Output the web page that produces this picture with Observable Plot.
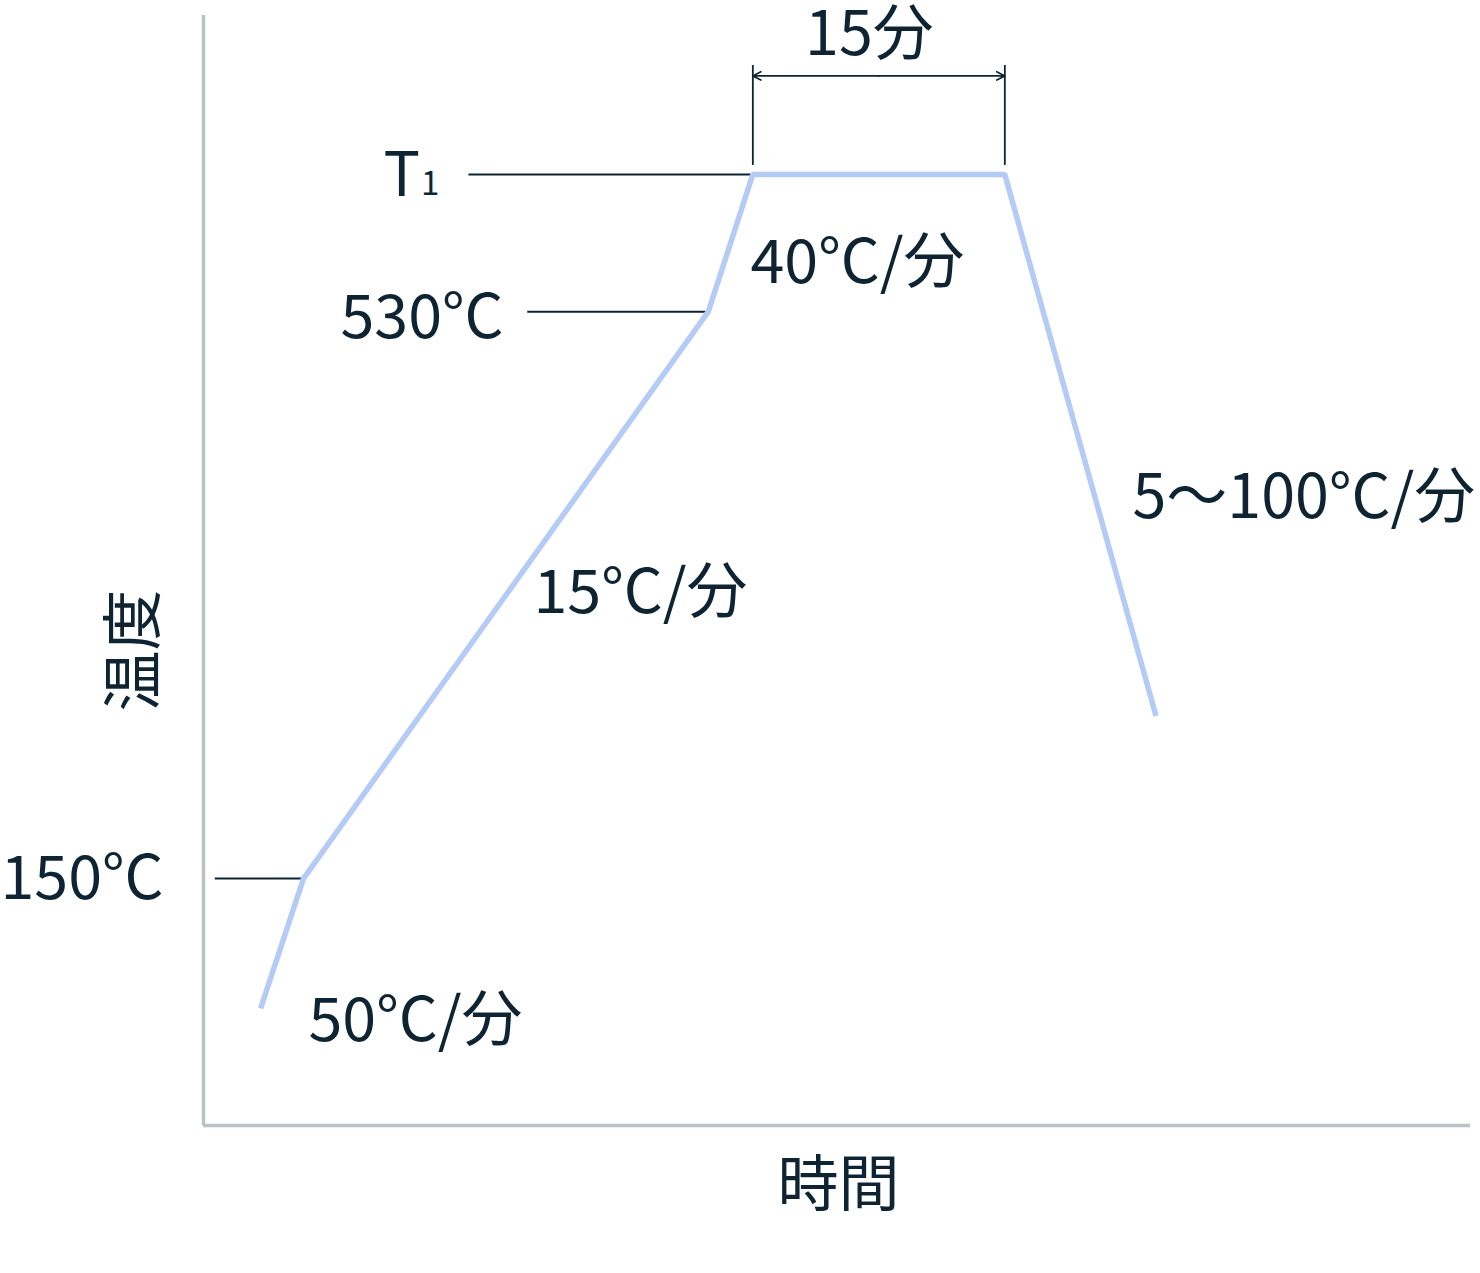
<!DOCTYPE html>
<html>
<head>
<meta charset="utf-8">
<script src="https://cdn.jsdelivr.net/npm/d3@7"></script>
<script src="https://cdn.jsdelivr.net/npm/@observablehq/plot@0.6"></script>
<style>
  html, body { margin: 0; padding: 0; background: #ffffff; }
  #chart svg { display: block; overflow: visible; }
</style>
</head>
<body>
<div id="chart"></div>
<script>
// Temperature profile (time in minutes, temperature in °C; schematic)
const profileTime = [3.4, 5.95, 30.05, 32.7, 47.7, 56.7];
const profileTemp = [63, 150, 530, 622, 622, 259];

// Reference (leader) lines to the labelled temperatures
const refTemp = [150, 530, 622];
const refFrom = [0.7, 19.3, 15.8];
const refTo = [5.95, 30.05, 32.7];

// Hold-time dimension (15 min)
const holdStart = 32.7;
const holdEnd = 47.7;

// Text labels: text, time, temperature, anchor
const labelText = ["15分", "40°C/分", "15°C/分", "5〜100°C/分", "50°C/分", "150°C", "530°C", "時間"];
const labelTime = [39.64, 32.56, 19.64, 55.3, 6.25, -2.38, 17.86, 37.8];
const labelTemp = [714.8, 562.6, 341.4, 405.1, 54.5, 149.7, 525.1, -56.1];
const labelAnchor = ["middle", "start", "start", "start", "start", "end", "end", "middle"];

const xDomain = [0, 75.42];
const yDomain = [-15.5, 728.5];

const profile = profileTime.map((t, i) => ({time: t, temp: profileTemp[i]}));
const refs = refTemp.map((v, i) => ({temp: v, from: refFrom[i], to: refTo[i]}));
const labels = labelText.map((s, i) => ({text: s, time: labelTime[i], temp: labelTemp[i], anchor: labelAnchor[i]}));
const holdMid = (holdStart + holdEnd) / 2;

const ink = "#0e2433";
const font = "'Noto Sans CJK JP', 'Noto Sans', sans-serif";
const fs = 61;

const chart = Plot.plot({
  width: 1480,
  height: 1273,
  marginLeft: 203,
  marginRight: 10,
  marginTop: 15,
  marginBottom: 148,
  x: {domain: xDomain, axis: null},
  y: {domain: yDomain, axis: null},
  style: {fontFamily: font, background: "#ffffff", overflow: "visible"},
  marks: [
    // frame axes
    Plot.ruleX([xDomain[0]], {stroke: "#b9c0c6", strokeWidth: 3.5}),
    Plot.ruleY([yDomain[0]], {stroke: "#b9c0c6", strokeWidth: 3.5}),
    // leader lines
    Plot.ruleY(refs, {y: "temp", x1: "from", x2: "to", stroke: ink, strokeWidth: 2}),
    // dimension ticks & arrows
    Plot.ruleX([holdStart, holdEnd], {y1: 628, y2: 695, stroke: ink, strokeWidth: 1.8}),
    Plot.arrow([{a: holdMid, b: holdStart}, {a: holdMid, b: holdEnd}], {
      x1: "a", x2: "b", y1: 688, y2: 688, stroke: ink, strokeWidth: 1.7,
      headLength: 8, headAngle: 55
    }),
    // profile
    Plot.line(profile, {x: "time", y: "temp", stroke: "#b4cbf5", strokeWidth: 5.5,
      strokeLinejoin: "miter", strokeLinecap: "butt"}),
    // labels
    Plot.text(labels.filter(d => d.anchor === "start"), {x: "time", y: "temp", text: "text",
      textAnchor: "start", fontSize: fs, fill: ink, lineAnchor: "middle"}),
    Plot.text(labels.filter(d => d.anchor === "end"), {x: "time", y: "temp", text: "text",
      textAnchor: "end", fontSize: fs, fill: ink, lineAnchor: "middle"}),
    Plot.text(labels.filter(d => d.anchor === "middle"), {x: "time", y: "temp", text: "text",
      textAnchor: "middle", fontSize: fs, fill: ink, lineAnchor: "middle"}),
    // T1
    Plot.text(["T"], {x: 10.71, y: 620.9, text: d => d, textAnchor: "start", fontSize: fs, fill: ink, lineAnchor: "middle"}),
    Plot.text(["1"], {x: 12.95, y: 615.2, text: d => d, textAnchor: "start", fontSize: 33, fill: ink, lineAnchor: "middle"}),
    // y-axis title
    Plot.text(["温度"], {x: -4.05, y: 302.9, text: d => d, rotate: -90, textAnchor: "middle",
      fontSize: fs, fill: ink, lineAnchor: "middle"})
  ]
});
document.getElementById("chart").appendChild(chart);
</script>
</body>
</html>
